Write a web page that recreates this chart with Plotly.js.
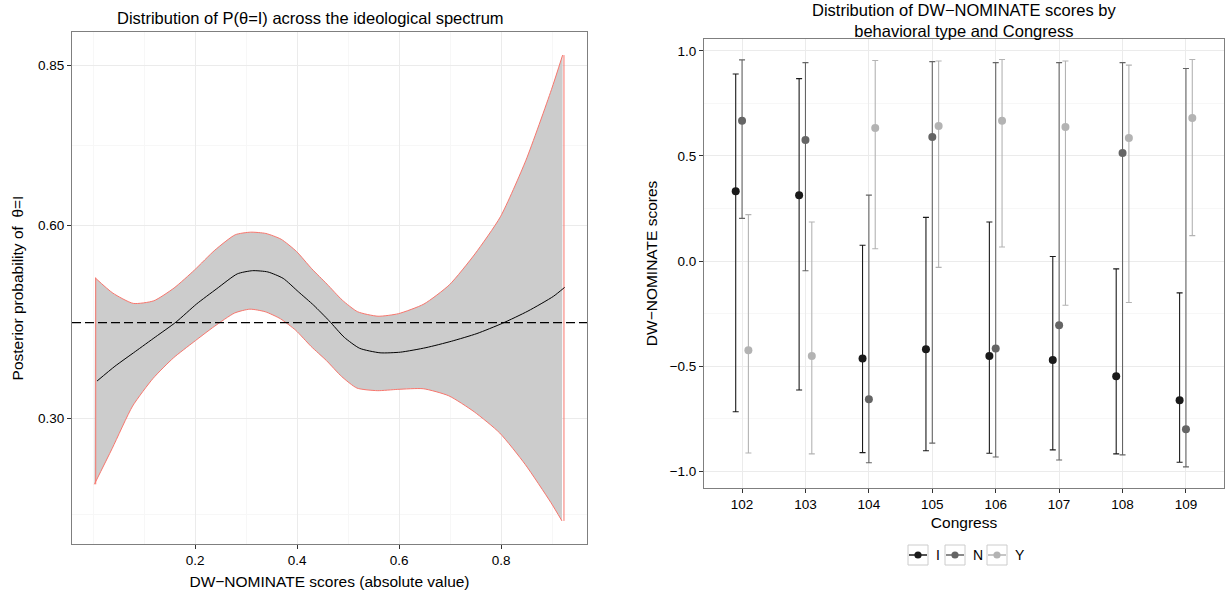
<!DOCTYPE html>
<html>
<head>
<meta charset="utf-8">
<script src="https://cdn.plot.ly/plotly-3.0.1.min.js"></script>
<style>html,body{margin:0;padding:0;background:#fff;}#chart{width:1225px;height:596px;}</style>
</head>
<body>
<div id="chart"></div>
<script>
// ---------- Left panel data: smoothed P(theta=I) with band ----------
var absScore = [0.005, 0.04, 0.08, 0.12, 0.16, 0.20, 0.24, 0.28, 0.31, 0.34, 0.37, 0.40, 0.43, 0.46, 0.49, 0.52, 0.56, 0.60, 0.65, 0.70, 0.75, 0.80, 0.85, 0.90, 0.922];
var probMean = [0.358, 0.381, 0.404, 0.427, 0.450, 0.478, 0.502, 0.525, 0.530, 0.528, 0.518, 0.497, 0.476, 0.452, 0.426, 0.409, 0.402, 0.403, 0.410, 0.420, 0.432, 0.448, 0.467, 0.490, 0.504];
var probUpper = [0.519, 0.495, 0.479, 0.483, 0.503, 0.531, 0.562, 0.586, 0.590, 0.588, 0.579, 0.560, 0.533, 0.509, 0.484, 0.466, 0.459, 0.463, 0.478, 0.508, 0.556, 0.614, 0.702, 0.812, 0.866];
var probLower = [0.197, 0.253, 0.319, 0.362, 0.394, 0.419, 0.443, 0.464, 0.470, 0.466, 0.455, 0.437, 0.412, 0.390, 0.365, 0.347, 0.343, 0.345, 0.346, 0.335, 0.310, 0.277, 0.228, 0.169, 0.140];
var baseline = 0.449;
var leftYTicks = [0.30, 0.60, 0.85];
var leftYTickText = ['0.30', '0.60', '0.85'];
var leftXTicks = [0.2, 0.4, 0.6, 0.8];
var leftXTickText = ['0.2', '0.4', '0.6', '0.8'];

// ---------- Right panel data: DW-NOMINATE by type and Congress ----------
var congress = ['102', '103', '104', '105', '106', '107', '108', '109'];
var typeNames = ['I', 'N', 'Y'];
var I_mean = [0.332, 0.313, -0.463, -0.419, -0.452, -0.471, -0.548, -0.662];
var I_hi   = [0.890, 0.868, 0.075, 0.208, 0.186, 0.022, -0.037, -0.151];
var I_lo   = [-0.717, -0.613, -0.911, -0.902, -0.914, -0.898, -0.917, -0.957];
var N_mean = [0.667, 0.576, -0.657, 0.590, -0.416, -0.305, 0.514, -0.800];
var N_hi   = [0.957, 0.944, 0.314, 0.949, 0.944, 0.944, 0.944, 0.916];
var N_lo   = [0.203, -0.046, -0.959, -0.866, -0.932, -0.946, -0.922, -0.979];
var Y_mean = [-0.424, -0.452, 0.633, 0.643, 0.667, 0.638, 0.586, 0.681];
var Y_hi   = [0.221, 0.186, 0.954, 0.952, 0.959, 0.952, 0.932, 0.959];
var Y_lo   = [-0.913, -0.917, 0.059, -0.030, 0.067, -0.210, -0.197, 0.121];
var rightYTicks = [-1.0, -0.5, 0.0, 0.5, 1.0];
var rightYTickText = ['\u22121.0', '\u22120.5', '0.0', '0.5', '1.0'];

// ---------- styles ----------
var FONT = 'Liberation Sans, Arial, Helvetica, sans-serif';
var typeColors = ['#1a1a1a', '#656565', '#b3b3b3'];
var gridMajor = '#ebebeb';
var gridMinor = '#f7f7f7';
var borderCol = '#7f7f7f';
var bandLine = '#f8766d';
var W = 1225, H = 596;

var traces = [];
var sm = {shape: 'spline', smoothing: 0.6};

// ribbon: lower edge, then upper edge filled down to it
traces.push({
  x: absScore, y: probLower, xaxis: 'x', yaxis: 'y', type: 'scatter', mode: 'lines',
  line: {color: bandLine, width: 1, shape: sm.shape, smoothing: sm.smoothing},
  showlegend: false, hoverinfo: 'skip'
});
traces.push({
  x: absScore, y: probUpper, xaxis: 'x', yaxis: 'y', type: 'scatter', mode: 'lines',
  fill: 'tonexty', fillcolor: '#cccccc',
  line: {color: bandLine, width: 1, shape: sm.shape, smoothing: sm.smoothing},
  showlegend: false, hoverinfo: 'skip'
});
// vertical end edges of the ribbon outline
var nLast = absScore.length - 1;
[0, nLast].forEach(function (i) {
  traces.push({
    x: [absScore[i], absScore[i]], y: [probLower[i], probUpper[i]], xaxis: 'x', yaxis: 'y',
    type: 'scatter', mode: 'lines', line: {color: bandLine, width: 1},
    showlegend: false, hoverinfo: 'skip'
  });
});
traces.push({
  x: absScore, y: probMean, xaxis: 'x', yaxis: 'y', type: 'scatter', mode: 'lines',
  line: {color: '#000000', width: 1, shape: sm.shape, smoothing: sm.smoothing},
  showlegend: false
});

var sets = [[I_mean, I_hi, I_lo], [N_mean, N_hi, N_lo], [Y_mean, Y_hi, Y_lo]];
sets.forEach(function (s, k) {
  var m = s[0], hi = s[1], lo = s[2];
  traces.push({
    x: congress, y: m, xaxis: 'x2', yaxis: 'y2', type: 'scatter', mode: 'markers',
    name: typeNames[k], offsetgroup: typeNames[k], alignmentgroup: 'g',
    marker: {color: typeColors[k], size: 8},
    error_y: {type: 'data', symmetric: false,
      array: hi.map(function (v, i) { return v - m[i]; }),
      arrayminus: lo.map(function (v, i) { return m[i] - v; }),
      color: typeColors[k], thickness: 1.1, width: 3},
    showlegend: false
  });
});

function baseAxis(extra) {
  var a = {
    showgrid: true, gridcolor: gridMajor, gridwidth: 1, zeroline: false,
    showline: true, mirror: true, linecolor: borderCol, linewidth: 1,
    ticks: 'outside', ticklen: 4, tickcolor: '#333333', tickwidth: 1,
    tickfont: {family: FONT, size: 13.5, color: '#000000'},
    automargin: false, fixedrange: true
  };
  for (var k in extra) a[k] = extra[k];
  return a;
}

// ---------- legend drawn as boxed keys (ggplot style) ----------
var legendCenters = [918, 955, 997];   // px, key box centres
var legendLabelX = [934, 971, 1013];   // px, label left edges
var legendY = 555;                     // px, row centre
var keyHalf = 10;
var shapes = [{
  type: 'line', xref: 'x domain', yref: 'y', x0: 0, x1: 1, y0: baseline, y1: baseline,
  line: {color: '#000000', width: 1.2, dash: '9px,4px'}
}];
var annotations = [
  {text: 'Distribution of P(\u03b8=I) across the ideological spectrum', xref: 'paper', yref: 'paper',
   x: 310 / W, y: 1 - 18 / H, xanchor: 'center', yanchor: 'middle', showarrow: false,
   font: {family: FONT, size: 16.5, color: '#000'}},
  {text: 'Distribution of DW\u2212NOMINATE scores by<br>behavioral type and Congress', xref: 'paper', yref: 'paper',
   x: 964 / W, y: 1 - 21 / H, xanchor: 'center', yanchor: 'middle', showarrow: false,
   font: {family: FONT, size: 16.5, color: '#000'}}
];
typeNames.forEach(function (nm, k) {
  var cx = legendCenters[k] / W, cy = 1 - legendY / H;
  shapes.push({type: 'rect', xref: 'paper', yref: 'paper', xsizemode: 'pixel', ysizemode: 'pixel',
    xanchor: cx, yanchor: cy, x0: -keyHalf, x1: keyHalf, y0: -keyHalf, y1: keyHalf,
    line: {color: '#cccccc', width: 1}, fillcolor: '#ffffff', layer: 'above'});
  shapes.push({type: 'line', xref: 'paper', yref: 'paper', xsizemode: 'pixel', ysizemode: 'pixel',
    xanchor: cx, yanchor: cy, x0: -keyHalf + 1, x1: keyHalf - 1, y0: 0, y1: 0,
    line: {color: typeColors[k], width: 1.5}, layer: 'above'});
  shapes.push({type: 'circle', xref: 'paper', yref: 'paper', xsizemode: 'pixel', ysizemode: 'pixel',
    xanchor: cx, yanchor: cy, x0: -3.6, x1: 3.6, y0: -3.6, y1: 3.6,
    line: {color: typeColors[k], width: 0}, fillcolor: typeColors[k], layer: 'above'});
  annotations.push({text: nm, xref: 'paper', yref: 'paper', x: legendLabelX[k] / W, y: cy,
    xanchor: 'left', yanchor: 'middle', showarrow: false,
    font: {family: FONT, size: 14, color: '#000'}});
});

var layout = {
  width: W, height: H,
  margin: {l: 0, r: 0, t: 0, b: 0},
  paper_bgcolor: '#ffffff', plot_bgcolor: '#ffffff',
  font: {family: FONT, color: '#000000'},
  scattermode: 'group', scattergap: 0.7,
  showlegend: false,
  xaxis: baseAxis({
    domain: [72 / W, 587 / W], range: [-0.0415, 0.9685],
    tickmode: 'array', tickvals: leftXTicks, ticktext: leftXTickText,
    minor: {tickmode: 'array', tickvals: [0, 0.1, 0.3, 0.5, 0.7, 0.9], showgrid: true, gridcolor: gridMinor, ticklen: 0},
    title: {text: 'DW\u2212NOMINATE scores (absolute value)', font: {family: FONT, size: 15.5}, standoff: 8}
  }),
  yaxis: baseAxis({
    domain: [1 - 544 / H, 1 - 32 / H], range: [0.104, 0.902],
    tickmode: 'array', tickvals: leftYTicks, ticktext: leftYTickText,
    minor: {tickmode: 'array', tickvals: [0.15, 0.45, 0.725], showgrid: true, gridcolor: gridMinor, ticklen: 0},
    title: {text: 'Posterior probability of \u00a0\u03b8=I', font: {family: FONT, size: 15.5}, standoff: 10}
  }),
  xaxis2: baseAxis({
    anchor: 'y2', type: 'category',
    domain: [704 / W, 1224 / W], range: [-0.6, 7.6],
    title: {text: 'Congress', font: {family: FONT, size: 15.5}, standoff: 6}
  }),
  yaxis2: baseAxis({
    anchor: 'x2',
    domain: [1 - 487.5 / H, 1 - 39.3 / H], range: [-1.077, 1.055],
    tickmode: 'array', tickvals: rightYTicks, ticktext: rightYTickText,
    minor: {tickmode: 'array', tickvals: [-0.75, -0.25, 0.25, 0.75], showgrid: true, gridcolor: gridMinor, ticklen: 0},
    title: {text: 'DW\u2212NOMINATE scores', font: {family: FONT, size: 15.5}, standoff: 8}
  }),
  shapes: shapes,
  annotations: annotations
};

Plotly.newPlot('chart', traces, layout, {staticPlot: true, displayModeBar: false});
</script>
</body>
</html>
